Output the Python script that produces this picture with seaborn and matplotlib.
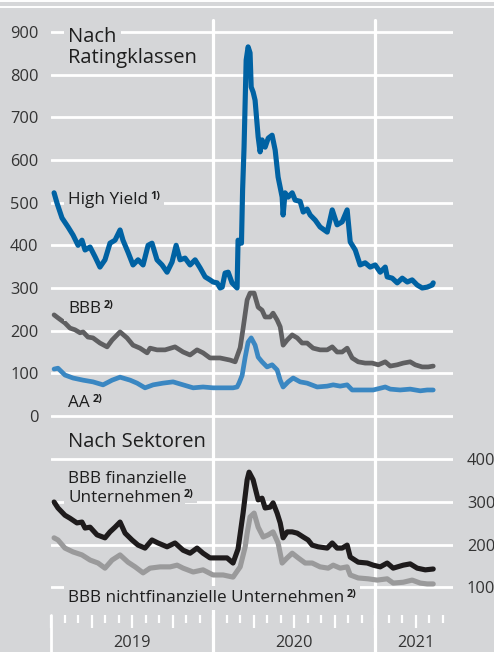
import matplotlib
matplotlib.use("Agg")
import matplotlib.pyplot as plt
import matplotlib.transforms as mtransforms
from matplotlib.ticker import FixedLocator, NullFormatter
import numpy as np
import seaborn as sns

# time axis in fractional years
hy_t = [2019.019, 2019.037, 2019.068, 2019.105, 2019.136, 2019.167, 2019.191, 2019.210, 2019.241,
        2019.272, 2019.302, 2019.333, 2019.364, 2019.395, 2019.426, 2019.444, 2019.475, 2019.506,
        2019.537, 2019.568, 2019.599, 2019.623, 2019.654, 2019.685, 2019.716, 2019.747, 2019.772,
        2019.796, 2019.827, 2019.858, 2019.889, 2019.920, 2019.951, 2019.981, 2020.000, 2020.025,
        2020.043, 2020.056, 2020.074, 2020.093, 2020.117, 2020.148, 2020.154, 2020.175, 2020.182,
        2020.191, 2020.204, 2020.216, 2020.228, 2020.235, 2020.247, 2020.259, 2020.278, 2020.290,
        2020.302, 2020.321, 2020.340, 2020.364, 2020.383, 2020.401, 2020.426, 2020.432, 2020.444,
        2020.463, 2020.488, 2020.506, 2020.537, 2020.556, 2020.580, 2020.599, 2020.630, 2020.660,
        2020.704, 2020.735, 2020.765, 2020.796, 2020.827, 2020.846, 2020.877, 2020.907, 2020.938,
        2020.969, 2021.000, 2021.031, 2021.062, 2021.074, 2021.105, 2021.136, 2021.167, 2021.198,
        2021.228, 2021.259, 2021.290, 2021.321, 2021.352, 2021.358]
hy_v = [523, 499, 464, 443, 424, 400, 412, 389, 396,
        373, 349, 366, 405, 412, 436, 412, 384, 354,
        366, 354, 400, 405, 366, 354, 337, 361, 400,
        366, 370, 354, 366, 347, 326, 319, 314, 312,
        300, 302, 335, 337, 312, 300, 412, 405, 530,
        630, 834, 865, 851, 771, 759, 740, 654, 619,
        647, 630, 651, 658, 623, 560, 513, 471, 523,
        513, 523, 506, 503, 478, 485, 471, 459, 443,
        431, 483, 448, 455, 483, 408, 389, 354, 359,
        349, 354, 337, 349, 326, 323, 312, 323, 314,
        319, 307, 300, 302, 307, 312]

bbb_t = [2019.019, 2019.043, 2019.086, 2019.117, 2019.148, 2019.179, 2019.198, 2019.228, 2019.259,
         2019.302, 2019.346, 2019.377, 2019.426, 2019.469, 2019.506, 2019.549, 2019.593, 2019.611,
         2019.654, 2019.704, 2019.765, 2019.815, 2019.858, 2019.901, 2019.938, 2019.981, 2020.043,
         2020.105, 2020.136, 2020.167, 2020.185, 2020.210, 2020.228, 2020.253, 2020.278, 2020.302,
         2020.321, 2020.352, 2020.370, 2020.395, 2020.414, 2020.432, 2020.457, 2020.488, 2020.519,
         2020.549, 2020.580, 2020.617, 2020.660, 2020.704, 2020.735, 2020.765, 2020.796, 2020.827,
         2020.858, 2020.895, 2020.938, 2020.981, 2021.019, 2021.062, 2021.093, 2021.136, 2021.173,
         2021.216, 2021.247, 2021.290, 2021.327, 2021.358]
bbb_v = [237, 230, 218, 206, 202, 195, 197, 185, 183,
         171, 162, 178, 197, 183, 166, 159, 148, 159,
         155, 155, 162, 150, 143, 155, 148, 136, 136,
         131, 127, 160, 205, 272, 288, 288, 255, 248,
         232, 232, 241, 225, 209, 166, 178, 190, 183,
         171, 171, 159, 155, 155, 162, 150, 150, 159,
         136, 127, 124, 124, 120, 127, 117, 120, 124,
         127, 120, 115, 115, 117]

aa_t = [2019.019, 2019.043, 2019.086, 2019.136, 2019.198, 2019.259, 2019.321, 2019.377, 2019.426,
        2019.488, 2019.531, 2019.580, 2019.630, 2019.691, 2019.753, 2019.815, 2019.877, 2019.938,
        2020.000, 2020.062, 2020.123, 2020.148, 2020.160, 2020.179, 2020.198, 2020.216, 2020.235,
        2020.259, 2020.278, 2020.302, 2020.333, 2020.364, 2020.395, 2020.414, 2020.432, 2020.463,
        2020.494, 2020.537, 2020.580, 2020.642, 2020.704, 2020.741, 2020.784, 2020.827, 2020.858,
        2020.926, 2020.988, 2021.062, 2021.093, 2021.154, 2021.216, 2021.278, 2021.321, 2021.358]
aa_v = [110, 112, 96, 89, 84, 80, 73, 84, 91,
        84, 77, 66, 73, 77, 80, 73, 66, 68,
        66, 66, 66, 68, 77, 95, 138, 173, 183,
        166, 138, 127, 115, 120, 108, 84, 68, 80,
        89, 80, 77, 68, 70, 73, 70, 73, 61,
        61, 61, 68, 63, 61, 63, 59, 61, 61]

fin_t = [2019.019, 2019.043, 2019.086, 2019.117, 2019.160, 2019.191, 2019.210, 2019.241, 2019.284,
         2019.333, 2019.364, 2019.395, 2019.426, 2019.457, 2019.500, 2019.537, 2019.580, 2019.623,
         2019.660, 2019.716, 2019.765, 2019.815, 2019.858, 2019.901, 2019.938, 2019.981, 2020.043,
         2020.086, 2020.123, 2020.154, 2020.185, 2020.210, 2020.222, 2020.247, 2020.278, 2020.302,
         2020.321, 2020.352, 2020.370, 2020.395, 2020.414, 2020.432, 2020.457, 2020.488, 2020.519,
         2020.556, 2020.586, 2020.611, 2020.648, 2020.704, 2020.735, 2020.765, 2020.796, 2020.827,
         2020.846, 2020.895, 2020.951, 2020.988, 2021.031, 2021.074, 2021.111, 2021.173, 2021.216,
         2021.259, 2021.309, 2021.358]
fin_v = [300, 286, 269, 262, 251, 253, 239, 241, 223,
         216, 230, 241, 253, 227, 211, 199, 192, 211,
         204, 195, 204, 187, 180, 192, 180, 169, 169,
         169, 157, 190, 274, 352, 370, 352, 305, 309,
         286, 288, 298, 274, 251, 216, 230, 230, 227,
         218, 211, 199, 195, 192, 204, 192, 192, 199,
         171, 159, 157, 152, 148, 157, 145, 152, 155,
         145, 141, 143]

nonfin_t = [2019.019, 2019.043, 2019.086, 2019.136, 2019.191, 2019.241, 2019.290, 2019.333, 2019.377,
            2019.426, 2019.475, 2019.519, 2019.568, 2019.611, 2019.673, 2019.735, 2019.778, 2019.815,
            2019.877, 2019.938, 2020.000, 2020.062, 2020.123, 2020.154, 2020.167, 2020.198, 2020.210,
            2020.228, 2020.253, 2020.278, 2020.309, 2020.340, 2020.370, 2020.401, 2020.426, 2020.457,
            2020.488, 2020.525, 2020.568, 2020.611, 2020.660, 2020.710, 2020.741, 2020.784, 2020.827,
            2020.846, 2020.895, 2020.957, 2021.012, 2021.074, 2021.111, 2021.173, 2021.228, 2021.278,
            2021.321, 2021.358]
nonfin_v = [216, 211, 192, 183, 176, 164, 157, 145, 164,
            176, 159, 148, 134, 145, 148, 148, 152, 145,
            136, 141, 129, 129, 124, 141, 148, 195, 227,
            265, 274, 241, 218, 223, 230, 204, 157, 169,
            180, 169, 157, 157, 148, 145, 152, 145, 148,
            129, 122, 120, 117, 120, 110, 112, 117, 110,
            108, 108]

top_ticks = [0, 100, 200, 300, 400, 500, 600, 700, 800, 900]
bottom_ticks = [100, 200, 300, 400]
year_labels = ["2019", "2020", "2021"]
year_label_pos = [2019.5, 2020.5, 2021.25]

BG = "#d5d6d8"
W, H = 494, 652

sns.set_theme(style="white", rc={"figure.facecolor": BG, "axes.facecolor": "none"})
plt.rcParams["font.family"] = ["Open Sans", "DejaVu Sans"]


def box(x0, y0, x1, y1):
    # pixel box (from top left) -> figure fraction
    return [x0 / W, 1 - y1 / H, (x1 - x0) / W, (y1 - y0) / H]


fig = plt.figure(figsize=(W / 100, H / 100), dpi=100)
xlim = (2019.0, 2021.48)

# background axes for the year separators
ax_bg = fig.add_axes(box(51, 20, 453, 652))
ax_bg.set_xlim(xlim)
ax_bg.set_ylim(0, 1)
ax_bg.axis("off")
for yr in [2020, 2021]:
    ax_bg.axvline(yr, color="white", lw=2.3, clip_on=False)
ax_bg.axvline(2019.003, ymax=37 / 632, color="white", lw=2.0, clip_on=False)

# upper panel
ax_top = fig.add_axes(box(51, 20, 453, 430))
ax_top.set_xlim(xlim)
ax_top.set_ylim(-32.8, 928)
ax_top.set_yticks(top_ticks)
ax_top.yaxis.grid(True, color="white", lw=2.0)
ax_top.set_axisbelow(True)
ax_top.set_xticks([])
ax_top.tick_params(axis="y", length=0, pad=9, labelsize=11.8, labelcolor="#333333")
sns.lineplot(x=hy_t, y=hy_v, ax=ax_top, color="#0062a3", lw=3.7, solid_joinstyle="round")
sns.lineplot(x=bbb_t, y=bbb_v, ax=ax_top, color="#5f5f61", lw=3.4, solid_joinstyle="round")
sns.lineplot(x=aa_t, y=aa_v, ax=ax_top, color="#3a87c2", lw=3.4, solid_joinstyle="round")

# lower panel
ax_bot = fig.add_axes(box(51, 452, 453, 615))
ax_bot.set_xlim(xlim)
ax_bot.set_ylim(35.2, 417.2)
ax_bot.yaxis.tick_right()
ax_bot.set_yticks(bottom_ticks)
ax_bot.yaxis.grid(True, color="white", lw=2.0)
ax_bot.set_axisbelow(True)
ax_bot.tick_params(axis="y", length=0, pad=10, labelsize=11.8, labelcolor="#333333")
sns.lineplot(x=fin_t, y=fin_v, ax=ax_bot, color="#1e1b1c", lw=3.7, solid_joinstyle="round")
sns.lineplot(x=nonfin_t, y=nonfin_v, ax=ax_bot, color="#9a9a9b", lw=3.7, solid_joinstyle="round")

months = np.arange(2019, 2021.5 + 1e-6, 1 / 12)
quarters = np.arange(2019, 2021.5 + 1e-6, 0.25)
ax_bot.xaxis.set_major_locator(FixedLocator(quarters))
ax_bot.xaxis.set_major_formatter(NullFormatter())
ax_bot.xaxis.set_minor_locator(FixedLocator(months))
ax_bot.tick_params(axis="x", which="major", direction="out", length=9.4, width=1.6,
                   color="white", bottom=True)
ax_bot.tick_params(axis="x", which="minor", direction="out", length=5.8, width=1.6,
                   color="white", bottom=True)

for a in (ax_top, ax_bot):
    sns.despine(ax=a, left=True, bottom=True)
    a.set_xlabel("")
    a.set_ylabel("")

trans = mtransforms.blended_transform_factory(ax_bot.transData, fig.transFigure)
for pos, lab in zip(year_label_pos, year_labels):
    ax_bot.text(pos, 1 - 643 / H, lab, transform=trans, ha="center", va="center",
                fontsize=11.8, color="#333333")

# labels: (text, footnote, baseline y px, font size)
txt_color = "#1e1e1e"
labels = [
    ("Nach", None, 42, 14.5),
    ("Ratingklassen", None, 63, 14.5),
    ("High Yield", "1)", 204, 12.3),
    ("BBB", "2)", 313, 12.3),
    ("AA", "2)", 407, 12.3),
    ("Nach Sektoren", None, 447, 14.5),
    ("BBB finanzielle", None, 483, 12.3),
    ("Unternehmen", "2)", 502, 12.3),
    ("BBB nichtfinanzielle Unternehmen", "2)", 602, 12.3),
]
renderer = fig.canvas.get_renderer()
for s, note, yb, fs in labels:
    t = fig.text(68 / W, 1 - yb / H, s, fontsize=fs, color=txt_color, va="baseline", ha="left",
                 zorder=4)
    x_end = t.get_window_extent(renderer=renderer).x1
    t.set_bbox(dict(boxstyle="square,pad=0.22", fc=BG, ec="none"))
    if note:
        pos = ((x_end + 2.5) / W, 1 - (yb - 5.0) / H)
        # background mask below the footnote, drawn under the main label
        fig.text(*pos, note, fontsize=7.8, fontweight="bold", color=BG, va="baseline",
                 ha="left", zorder=3, bbox=dict(boxstyle="square,pad=0.3", fc=BG, ec="none"))
        fig.text(*pos, note, fontsize=7.8, fontweight="bold", color=txt_color,
                 va="baseline", ha="left", zorder=5)

# white rules at the top
fig.add_artist(plt.Line2D([0, 1], [1 - 0.8 / H] * 2, color="white", lw=1.4))
fig.add_artist(plt.Line2D([0, 1], [1 - 6.8 / H] * 2, color="white", lw=1.4))

fig.savefig("out.png", dpi=100, facecolor=BG)
